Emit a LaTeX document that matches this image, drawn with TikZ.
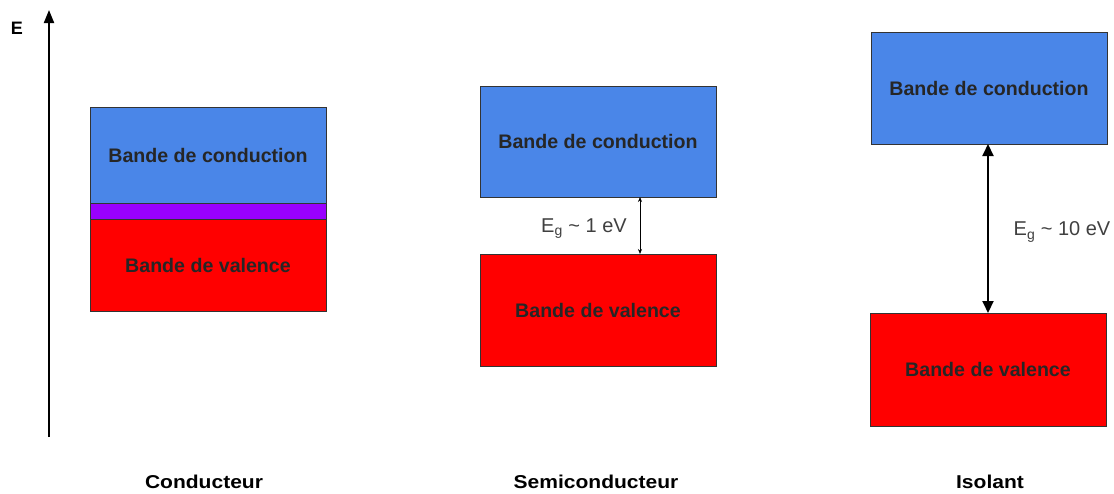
\documentclass[tikz,border=0pt]{standalone}
\usepackage{fontspec}
\setmainfont{Liberation Sans}
\newfontfamily\widesans[FakeStretch=1.13]{Liberation Sans}
\usetikzlibrary{arrows.meta}
\definecolor{bandblue}{HTML}{4A86E8}
\definecolor{bandred}{HTML}{FF0000}
\definecolor{bandpurple}{HTML}{9900FF}
\tikzset{band/.style={draw=black!80,line width=0.8pt,minimum width=236pt,inner sep=0pt,
    font=\fontsize{19.6}{22}\selectfont\bfseries,text=black!85},
  cband/.style={band,fill=bandblue},
  vband/.style={band,fill=bandred},
  gaplabel/.style={font=\fontsize{20}{22}\selectfont,text=black!75},
  kind/.style={font=\widesans\fontsize{18.6}{20}\selectfont\bfseries,anchor=base,inner sep=1pt}}
\begin{document}
\begin{tikzpicture}[x=1pt,y=-1pt]
    \useasboundingbox (0,0) rectangle (1114,493);
    % axe de l'energie
    \coordinate (ebas) at (49,437);
    \coordinate (ehaut) at (49,10);
    \draw[line width=2pt,-{Triangle[length=13pt,width=10pt]}] (ebas) -- (ehaut);
    \node[font=\fontsize{18}{20}\selectfont\bfseries] (E) at (17,28.5) {E};
    % conducteur
    \node[cband,minimum height=96pt] (c1) at (208,155) {Bande de conduction};
    \node[band,fill=bandpurple,minimum height=16pt] (m1) at (208,211) {};
    \node[vband,minimum height=92pt] (v1) at (208,265) {Bande de valence};
    \node[kind] (k1) at (204,488) {Conducteur};
    % semiconducteur
    \node[cband,minimum height=111pt] (c2) at (598,141.5) {Bande de conduction};
    \node[vband,minimum height=112pt] (v2) at (598,310) {Bande de valence};
    \coordinate (g2h) at (640,197);
    \coordinate (g2b) at (640,254);
    \draw[line width=0.7pt,{Stealth[length=5pt,width=4pt]}-{Stealth[length=5pt,width=4pt]}] (g2h) -- (g2b);
    \node[gaplabel] (e2) at (584,229) {E\textsubscript{g} \textasciitilde{} 1 eV};
    \node[kind] (k2) at (596,488) {Semiconducteur};
    % isolant
    \node[cband,minimum height=112pt] (c3) at (989,88) {Bande de conduction};
    \node[vband,minimum height=113pt] (v3) at (988,369.5) {Bande de valence};
    \coordinate (g3h) at (988,144);
    \coordinate (g3b) at (988,313);
    \draw[line width=2pt,{Triangle[length=12pt,width=11pt]}-{Triangle[length=12pt,width=11pt]}] (g3h) -- (g3b);
    \node[gaplabel] (e3) at (1062,232) {E\textsubscript{g} \textasciitilde{} 10 eV};
    \node[kind] (k3) at (990,488) {Isolant};
\end{tikzpicture}
\end{document}
